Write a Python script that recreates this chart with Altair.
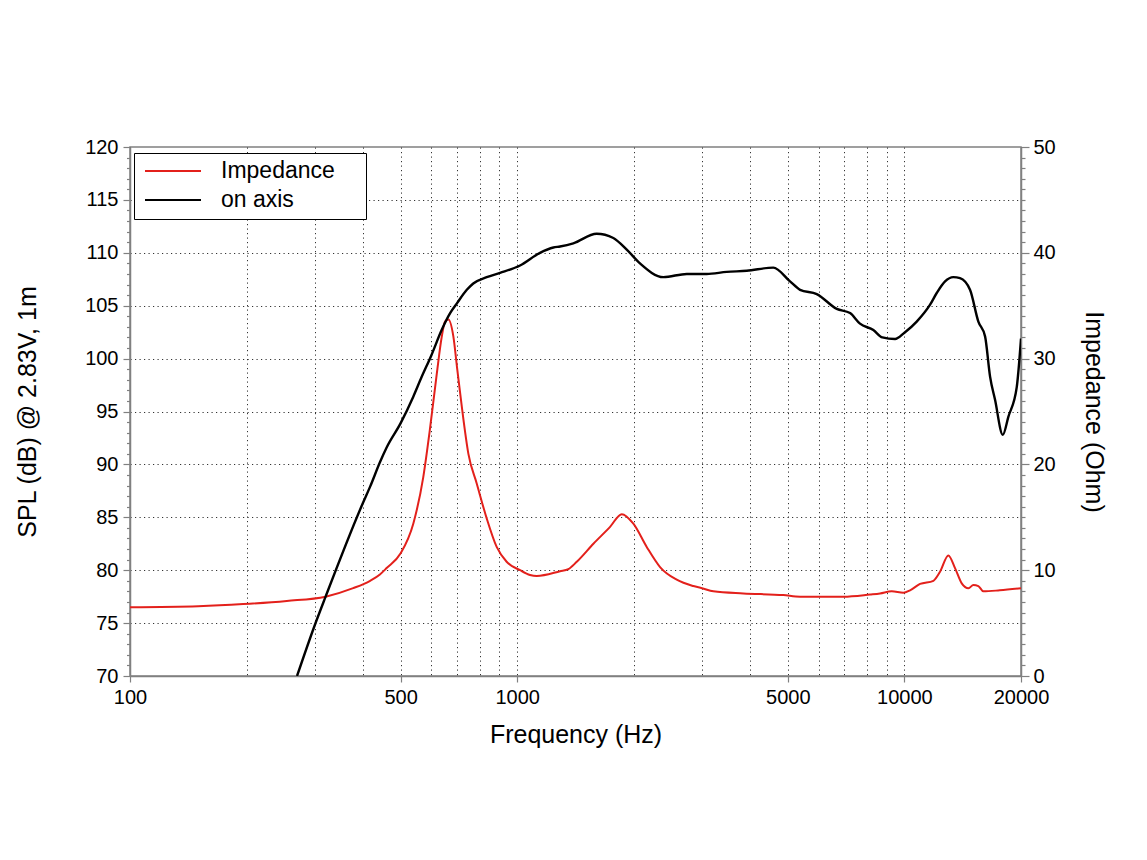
import altair as alt
import pandas as pd

# ---- data ----
spl_freq = [270, 300, 320, 400, 417, 442, 460, 500, 539, 567, 600, 638, 671, 698, 741,
            770, 834, 903, 1017, 1145, 1240, 1290, 1396, 1604, 1771, 1918, 2075, 2385,
            2741, 3086, 3476, 3915, 4585, 5064, 5376, 5936, 6687, 7236, 7677, 8313, 8770,
            9456, 10000, 10757, 11647, 12117, 12733, 13370, 13916, 14770, 15520, 16152,
            16640, 17140, 17950, 18550, 19500, 20000]
spl_db = [70.0, 74.8, 77.5, 86.4, 87.9, 90.2, 91.6, 93.9, 96.4, 98.3, 100.3, 102.7, 104.3,
          105.2, 106.5, 107.1, 107.7, 108.1, 108.8, 110.0, 110.5, 110.6, 110.9, 111.8, 111.4,
          110.3, 109.0, 107.7, 108.0, 108.0, 108.2, 108.3, 108.6, 107.3, 106.5, 106.1, 104.7,
          104.3, 103.3, 102.7, 102.0, 101.85, 102.45, 103.5, 105.1, 106.2, 107.3, 107.7, 107.6,
          106.5, 103.5, 102.1, 98.3, 96.1, 92.8, 94.5, 97.3, 101.9]

imp_freq = [100, 150, 196, 254, 320, 377, 417, 442, 460, 500, 539, 572, 595, 620, 638, 651,
            664, 684, 700, 719, 748, 786, 834, 885, 939, 1017, 1079, 1123, 1290, 1355, 1425,
            1573, 1737, 1862, 1995, 2160, 2338, 2582, 2850, 3000, 3210, 3837, 4867, 5376,
            6953, 8149, 8650, 9273, 9936, 10340, 10972, 11877, 12359, 12984, 13510, 14060,
            14630, 15070, 15520, 15990, 17620, 20000]
imp_ohm = [6.5, 6.6, 6.8, 7.1, 7.5, 8.3, 9.0, 9.6, 10.2, 11.6, 14.4, 18.8, 23.3, 28.6, 32.0,
           33.5, 33.7, 32.1, 29.0, 25.5, 21.0, 18.2, 14.9, 12.2, 10.8, 10.0, 9.55, 9.45, 9.9,
           10.1, 10.8, 12.5, 14.1, 15.3, 14.4, 12.2, 10.3, 9.1, 8.5, 8.3, 8.0, 7.8, 7.65,
           7.5, 7.5, 7.7, 7.8, 8.0, 7.87, 8.1, 8.7, 9.0, 9.86, 11.4, 10.2, 8.76, 8.3, 8.6,
           8.5, 8.0, 8.1, 8.3]

series_names = ["Impedance", "on axis"]
series_colors = ["#e3201b", "#000000"]

x_grid_values = [100, 200, 300, 400, 500, 600, 700, 800, 900,
                 1000, 2000, 3000, 4000, 5000, 6000, 7000, 8000, 9000,
                 10000, 20000]
x_label_values = [100, 500, 1000, 5000, 10000, 20000]
spl_ticks = list(range(70, 121))
imp_ticks = list(range(0, 51))

spl_df = pd.DataFrame({"freq": spl_freq, "value": spl_db, "series": series_names[1]})
imp_df = pd.DataFrame({"freq": imp_freq, "value": imp_ohm, "series": series_names[0]})

FONT = "Liberation Sans"
GRAY = "#808080"
W, H = 891, 529
# trailing blank (braille blank is not trimmed) widens the legend box to the reference width
LEGEND_PAD = "\u00a0\u2800"

label_list = "[" + ",".join(str(v) for v in x_label_values) + "]"
is_label = f"indexof({label_list}, datum.value) >= 0"
x_enc = alt.X(
    "freq:Q",
    scale=alt.Scale(type="log", domain=[100, 20000], nice=False),
    axis=alt.Axis(
        values=x_grid_values,
        labelExpr=f"{is_label} ? '' + datum.value : ''",
        tickSize={"condition": {"test": is_label, "value": 6}, "value": 0},
        grid=True,
        labelFontSize=20,
        labelPadding=5,
        labelFlush=False,
        labelOverlap=False,
        title="Frequency (Hz)",
        titleFontSize=25,
        titleBaseline="alphabetic",
        titleY=66,
    ),
)

color_enc = alt.Color(
    "series:N",
    scale=alt.Scale(domain=series_names, range=series_colors),
    legend=alt.Legend(
        title=None,
        orient="none",
        legendX=4,
        legendY=6,
        strokeColor="black",
        fillColor="white",
        padding=7,
        cornerRadius=0,
        symbolType="stroke",
        symbolSize=3136,
        symbolStrokeWidth=2,
        symbolOffset=3,
        labelOffset=19,
        labelFontSize=23,
        labelFont=FONT,
        labelColor="black",
        labelLimit=400,
        clipHeight=22,
        rowPadding=6,
        labelExpr=f"datum.label + '{LEGEND_PAD}'",
    ),
)

imp_line = alt.Chart(imp_df).mark_line(
    strokeWidth=2, interpolate="monotone", clip=True
).encode(
    x=x_enc,
    y=alt.Y(
        "value:Q",
        scale=alt.Scale(domain=[0, 50], nice=False, zero=False),
        axis=alt.Axis(
            orient="right",
            values=imp_ticks,
            labelExpr="datum.value % 10 === 0 ? '' + datum.value : ''",
            tickSize={"condition": {"test": "datum.value % 10 === 0", "value": 8}, "value": 4},
            grid=False,
            labelFontSize=20,
            labelPadding=4,
            labelFlush=False,
            labelOverlap=False,
            title="Impedance (Ohm)",
            titleFontSize=25,
            titleAngle=90,
            titleAlign="center",
            titleBaseline="alphabetic",
            titleX=64,
            titleY=H / 2,
        ),
    ),
    color=color_enc,
)

spl_line = alt.Chart(spl_df).mark_line(
    strokeWidth=2.4, interpolate="monotone", clip=True
).encode(
    x=x_enc,
    y=alt.Y(
        "value:Q",
        scale=alt.Scale(domain=[70, 120], nice=False, zero=False),
        axis=alt.Axis(
            orient="left",
            values=spl_ticks,
            labelExpr="datum.value % 5 === 0 ? '' + datum.value : ''",
            tickSize={"condition": {"test": "datum.value % 5 === 0", "value": 7}, "value": 3.5},
            grid=True,
            gridOpacity={"condition": {"test": "datum.value % 5 === 0 && datum.value > 70 && datum.value < 120", "value": 1}, "value": 0},
            labelFontSize=20,
            labelPadding=5,
            labelFlush=False,
            labelOverlap=False,
            title="SPL (dB) @ 2.83V, 1m",
            titleFontSize=25,
            titleAngle=-90,
            titleAlign="center",
            titleBaseline="alphabetic",
            titleX=-95,
            titleY=H / 2,
        ),
    ),
    color=color_enc,
)

chart = (
    alt.layer(imp_line, spl_line)
    .resolve_scale(y="independent")
    .properties(
        width=W,
        height=H,
        autosize=alt.AutoSizeParams(type="none"),
        padding={"left": 122, "top": 139, "right": 110, "bottom": 150},
        background="white",
    )
    .configure_view(stroke=GRAY, strokeWidth=1.5)
    .configure_axis(
        labelFont=FONT,
        titleFont=FONT,
        labelColor="black",
        titleColor="black",
        titleFontWeight="normal",
        domainColor=GRAY,
        domainWidth=1.5,
        tickColor=GRAY,
        tickWidth=1.2,
        gridColor="#333333",
        gridDash=[1.2, 3.3],
        gridWidth=1,
    )
)

chart.save("out.html", embed_options={"renderer": "svg", "actions": False})
